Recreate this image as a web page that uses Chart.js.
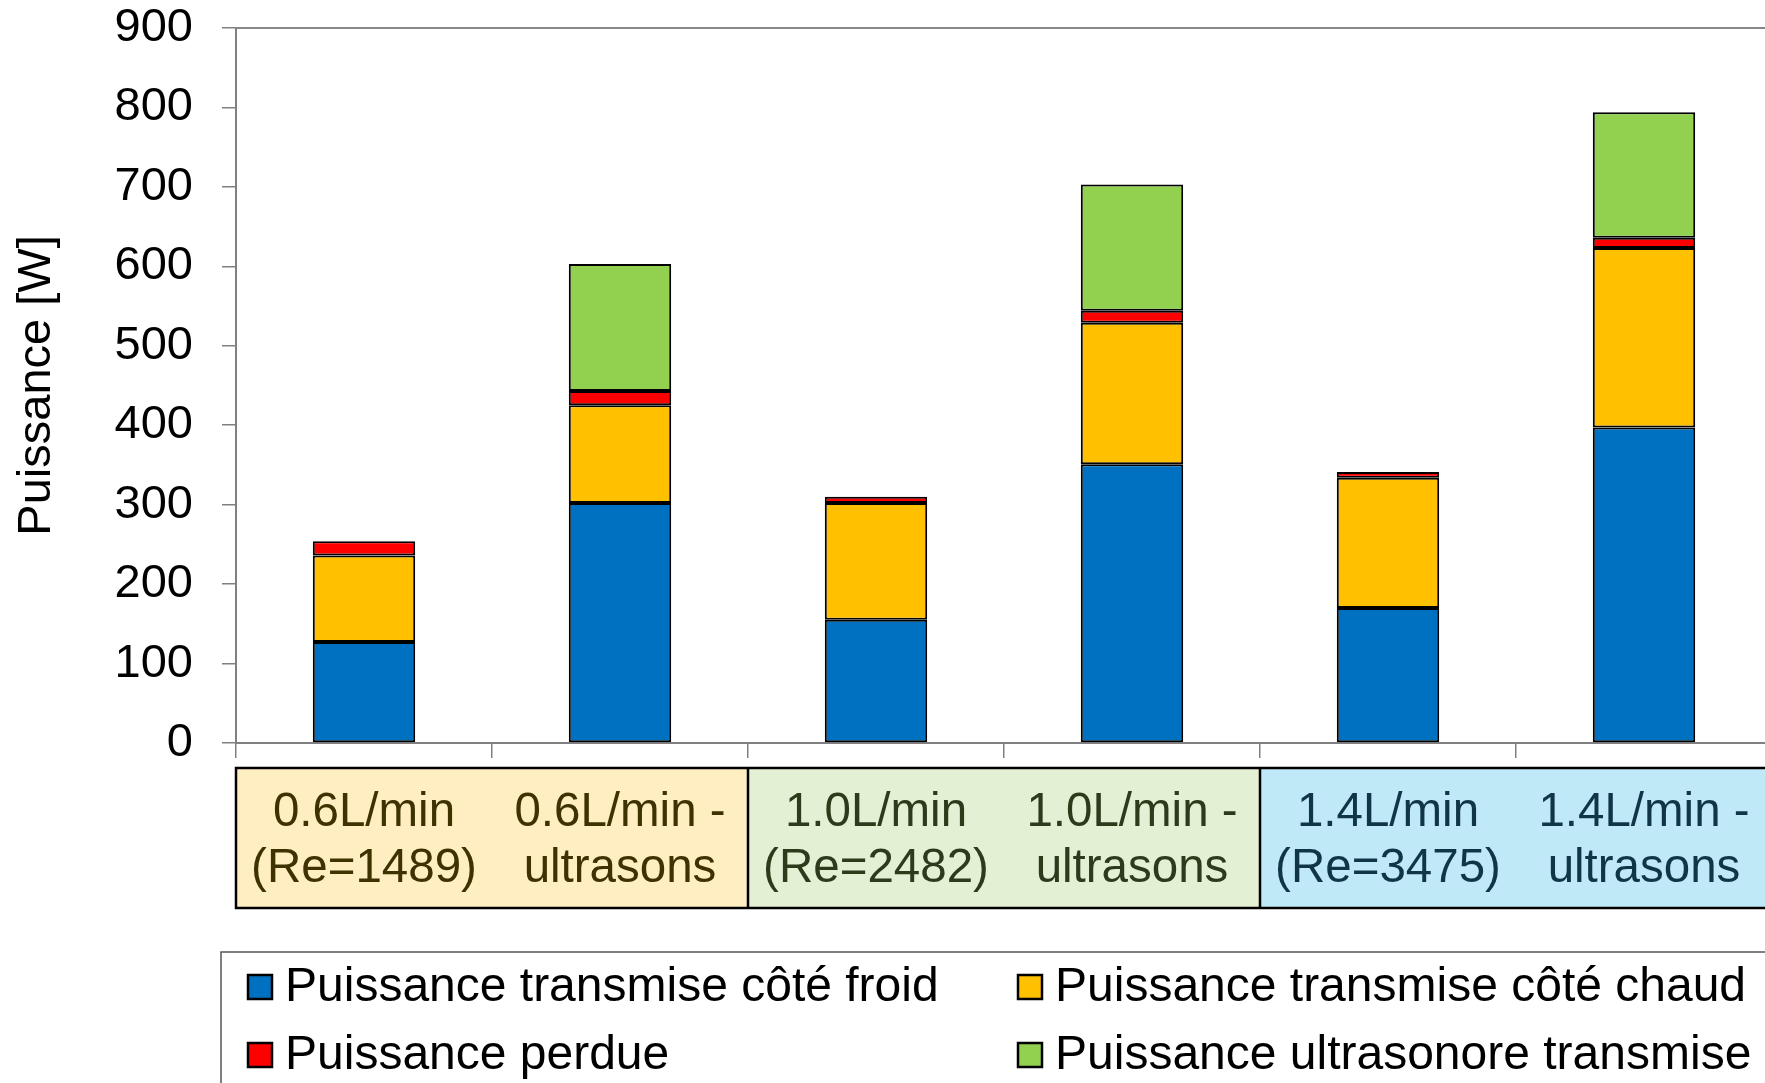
<!DOCTYPE html>
<html>
<head>
<meta charset="utf-8">
<script src="https://cdn.jsdelivr.net/npm/chart.js@4"></script>
<style>
  html, body { margin: 0; padding: 0; background: #fff; overflow: hidden; }
  #wrap { width: 1765px; height: 1083px; overflow: hidden; position: relative; }
  #wrap canvas { position: absolute; left: 0; top: 0; }
</style>
</head>
<body>
<div id="wrap"><canvas id="chart"></canvas></div>
<script>
// categories (two lines each)
const categories = [
  ['0.6L/min', '(Re=1489)'],
  ['0.6L/min -', 'ultrasons'],
  ['1.0L/min', '(Re=2482)'],
  ['1.0L/min -', 'ultrasons'],
  ['1.4L/min', '(Re=3475)'],
  ['1.4L/min -', 'ultrasons']
];
const froid = [127, 302, 155, 351, 170, 397];
const chaud = [109, 123, 147, 178, 164, 226];
const perdue = [18, 18, 8, 15, 7, 13];
const ultrason = [null, 160, null, 159, null, 158];
const seriesNames = [
  'Puissance transmise côté froid',
  'Puissance transmise côté chaud',
  'Puissance perdue',
  'Puissance ultrasonore transmise'
];
const yMin = 0, yMax = 900, yStep = 100;

const FONT = "'Liberation Sans', Arial, sans-serif";
const colors = ['#0070C0', '#FFC000', '#FF0000', '#92D050'];
// label boxes under the axis: pairs of categories
const boxFills = ['#FFEEC2', '#E3F0D4', '#C0E9F8'];
const labelColors = ['#3D3200', '#3D3200', '#2D3B1B', '#2D3B1B', '#103546', '#103546'];

// coloured boxes behind the category labels + top frame line + legend
const boxesPlugin = {
  id: 'boxes',
  beforeDraw(chart) {
    const c = chart.ctx, x = chart.scales.x, area = chart.chartArea;
    const half = (x.getPixelForValue(1) - x.getPixelForValue(0)) / 2;
    const top = area.bottom + 25, bottom = area.bottom + 165;
    c.save();
    for (let g = 0; g < boxFills.length; g++) {
      const l = x.getPixelForValue(g * 2) - half;
      const r = x.getPixelForValue(g * 2 + 1) + half;
      c.fillStyle = boxFills[g];
      c.fillRect(l, top, r - l, bottom - top);
    }
    c.strokeStyle = '#000';
    c.lineWidth = 2.5;
    const x0 = x.getPixelForValue(0) - half;
    const x1 = x.getPixelForValue(categories.length - 1) + half;
    c.strokeRect(x0, top, x1 - x0, bottom - top);
    for (let g = 1; g < boxFills.length; g++) {
      const px = x.getPixelForValue(g * 2) - half;
      c.beginPath();
      c.moveTo(px, top);
      c.lineTo(px, bottom);
      c.stroke();
    }
    c.restore();
  },
  afterDraw(chart) {
    const c = chart.ctx, area = chart.chartArea;
    c.save();
    // top frame
    c.strokeStyle = '#888';
    c.lineWidth = 2;
    c.beginPath();
    c.moveTo(area.left, area.top);
    c.lineTo(area.right, area.top);
    c.stroke();

    // legend
    const lx = 221, ly = 952;
    c.strokeStyle = '#555';
    c.lineWidth = 1.5;
    c.strokeRect(lx, ly, 1700, 300);
    const colX = [247, 1017], rowY = [987, 1055];
    c.font = '48px ' + FONT;
    c.textBaseline = 'middle';
    c.textAlign = 'left';
    chart.data.datasets.forEach((ds, i) => {
      const mx = colX[i % 2], my = rowY[Math.floor(i / 2)];
      c.fillStyle = ds.backgroundColor;
      c.fillRect(mx, my - 13, 26, 26);
      c.strokeStyle = '#000';
      c.lineWidth = 2.5;
      c.strokeRect(mx + 1, my - 12, 24, 24);
      c.fillStyle = '#000';
      c.fillText(ds.label, mx + 38, my + 1);
    });
    c.restore();
  }
};

const canvas = document.getElementById('chart');
canvas.width = 1800;
canvas.height = 1083;
canvas.style.width = '1800px';
canvas.style.height = '1083px';

new Chart(canvas, {
  type: 'bar',
  data: {
    labels: categories,
    datasets: [froid, chaud, perdue, ultrason].map((d, i) => ({
      label: seriesNames[i],
      data: d,
      backgroundColor: colors[i],
      borderColor: '#000',
      borderWidth: 2,
      borderSkipped: false,
      barPercentage: 0.4,
      categoryPercentage: 1
    }))
  },
  options: {
    responsive: false,
    animation: false,
    devicePixelRatio: 1,
    layout: { padding: { top: 0, right: 28, left: 0, bottom: 0 } },
    plugins: {
      legend: { display: false },
      tooltip: { enabled: false }
    },
    scales: {
      x: {
        stacked: true,
        afterFit(scale) { scale.height = 340; },
        border: { display: true, color: '#808080', width: 2 },
        grid: { drawOnChartArea: false, tickLength: 15, color: '#808080', lineWidth: 1.5 },
        ticks: {
          padding: 27,
          maxRotation: 0,
          autoSkip: false,
          color: ctx => labelColors[ctx.index],
          font: { family: FONT, size: 47.5, lineHeight: 1.18 }
        }
      },
      y: {
        stacked: true,
        min: yMin,
        max: yMax,
        afterFit(scale) {
          scale.width = 236;
          scale.paddingTop = 28;
          scale.paddingBottom = 0;
        },
        border: { display: true, color: '#808080', width: 2 },
        grid: { drawOnChartArea: false, tickLength: 14, color: '#808080', lineWidth: 1.5 },
        ticks: {
          stepSize: yStep,
          padding: 29,
          color: '#000',
          font: { family: FONT, size: 47, lineHeight: 1.2 }
        },
        title: {
          display: true,
          text: 'Puissance [W]',
          color: '#000',
          padding: { top: 9, bottom: 0 },
          font: { family: FONT, size: 47, lineHeight: 1.2 }
        }
      }
    }
  },
  plugins: [boxesPlugin]
});
</script>
</body>
</html>
